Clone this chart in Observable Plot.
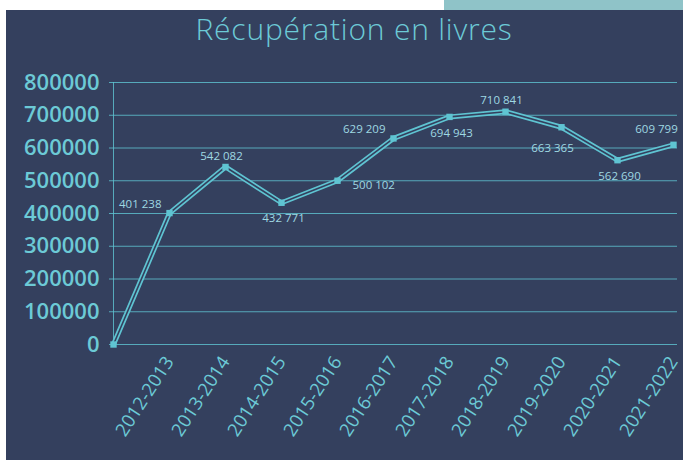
<!DOCTYPE html>
<html>
<head>
<meta charset="utf-8">
<script src="https://cdn.jsdelivr.net/npm/d3@7"></script>
<script src="https://cdn.jsdelivr.net/npm/@observablehq/plot@0.6"></script>
<style>
  html, body { margin: 0; padding: 0; background: #ffffff; }
  #wrap { position: relative; width: 683px; height: 460px; overflow: hidden; background: #ffffff; font-family: "Open Sans", sans-serif; }
  #panel { position: absolute; left: 6px; top: 10px; width: 677px; height: 450px; background: #34405e; }
  #tab { position: absolute; left: 444px; top: 0; width: 239px; height: 10px; background: #8fc3c8; }
  #title { position: absolute; left: 0; width: 708px; top: 8px; text-align: center; color: #6ccad6; font-size: 30px; font-weight: 300; letter-spacing: 0.8px; }
  #chart { position: absolute; left: 0; top: 0; }
</style>
</head>
<body>
<div id="wrap">
  <div id="panel"></div>
  <div id="tab"></div>
  <div id="title">Récupération en livres</div>
  <div id="chart"></div>
</div>
<script>
const seasons = ["", "2012-2013", "2013-2014", "2014-2015", "2015-2016", "2016-2017", "2017-2018", "2018-2019", "2019-2020", "2020-2021", "2021-2022"];
const values = [0, 401238, 542082, 432771, 500102, 629209, 694943, 710841, 663365, 562690, 609799];
const labelPlacement = [null, "leftAbove", "above", "below", "rightBelow", "leftAbove", "below", "above", "belowLeft", "below", "aboveLeft"];
const yTicks = [0, 100000, 200000, 300000, 400000, 500000, 600000, 700000, 800000];

const offsets = {
  leftAbove: {dx: -8, dy: -9, anchor: "end"},
  above: {dx: -4, dy: -11, anchor: "middle"},
  below: {dx: 2, dy: 16, anchor: "middle"},
  rightBelow: {dx: 15, dy: 5, anchor: "start"},
  belowLeft: {dx: -9, dy: 21, anchor: "middle"},
  aboveLeft: {dx: -17, dy: -15, anchor: "middle"}
};

const data = seasons.map((s, i) => ({season: s, value: values[i], place: labelPlacement[i]}));
const fmt = v => d3.format(",")(v).replace(/,/g, " ");

const teal = "#5fc4d2";
const navy = "#34405e";
const labelColor = "#9fd8e2";

const textMarks = Object.entries(offsets).map(([key, o]) =>
  Plot.text(data.filter(d => d.place === key), {
    x: "season", y: "value", text: d => fmt(d.value),
    dx: o.dx, dy: o.dy, textAnchor: o.anchor,
    fill: labelColor, fontSize: 11.5, fontFamily: "Open Sans"
  })
);

const chart = Plot.plot({
  width: 683,
  height: 460,
  marginLeft: 109,
  marginRight: 6,
  marginTop: 82,
  marginBottom: 116,
  style: {background: "transparent", fontFamily: "Open Sans", overflow: "visible"},
  x: {type: "point", domain: seasons, padding: 0},
  y: {domain: [0, 800000]},
  marks: [
    Plot.ruleY(yTicks, {stroke: teal, strokeWidth: 1, strokeOpacity: 0.8}),
    Plot.ruleX([seasons[0]], {y1: 0, y2: 800000, stroke: teal, strokeWidth: 1, strokeOpacity: 0.8}),
    Plot.axisY({ticks: yTicks, tickFormat: d3.format("d"), tickSize: 0, tickPadding: 10, label: null,
      fill: "#6ccad6", fontSize: 22, fontWeight: 600, letterSpacing: "0.6px"}),
    Plot.axisX({tickSize: 0, tickPadding: 14, tickRotate: -57, label: null,
      fill: "#6ccad6", fontSize: 18.5, fontWeight: 500}),
    Plot.line(data, {x: "season", y: "value", stroke: teal, strokeWidth: 5, strokeLinejoin: "miter"}),
    Plot.line(data, {x: "season", y: "value", stroke: navy, strokeWidth: 1.6, strokeLinejoin: "miter"}),
    Plot.dot(data, {x: "season", y: "value", symbol: "square", r: 3.6, fill: teal, stroke: "none"}),
    ...textMarks
  ]
});
document.getElementById("chart").appendChild(chart);
</script>
</body>
</html>
